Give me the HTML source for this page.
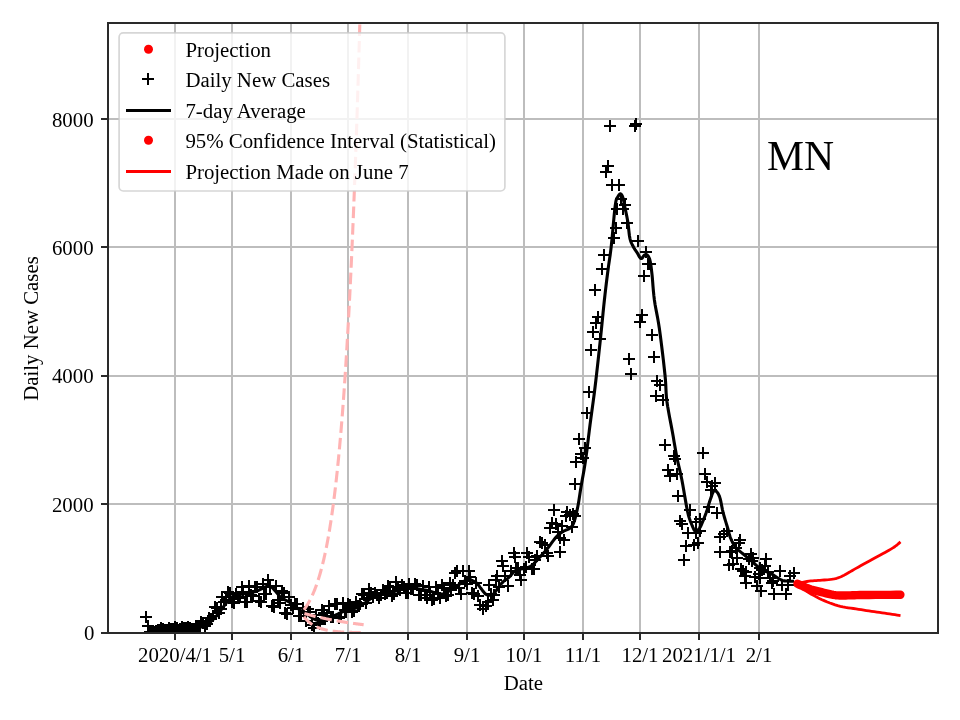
<!DOCTYPE html><html><head><meta charset="utf-8"><title>MN Daily New Cases</title><style>html,body{margin:0;padding:0;background:#fff;overflow:hidden}svg{display:block;will-change:transform}text{font-family:'Liberation Serif','Times New Roman',serif;fill:#000}</style></head><body>
<svg width="960" height="720" viewBox="0 0 960 720">
<rect width="960" height="720" fill="#fff"/>
<defs><clipPath id="ax"><rect x="108" y="23" width="830" height="610"/></clipPath></defs>
<path d="M175 23V633M232 23V633M291 23V633M348 23V633M408 23V633M467 23V633M524 23V633M583 23V633M640 23V633M699 23V633M759 23V633M108 633H938M108 504H938M108 376H938M108 247H938M108 119H938" stroke="#bdbdbd" stroke-width="2" fill="none"/>
<g clip-path="url(#ax)">
<path d="M140 617h12M146 611v12M142 626h12M148 620v12M144 632h12M150 626v12M146 632h12M152 626v12M148 632h12M154 626v12M150 631h12M156 625v12M152 630h12M158 624v12M153 630h12M159 624v12M155 628h12M161 622v12M157 629h12M163 623v12M159 630h12M165 624v12M161 630h12M167 624v12M163 628h12M169 622v12M165 629h12M171 623v12M167 629h12M173 623v12M169 627h12M175 621v12M171 628h12M177 622v12M173 630h12M179 624v12M174 629h12M180 623v12M176 627h12M182 621v12M178 628h12M184 622v12M180 628h12M186 622v12M182 627h12M188 621v12M184 628h12M190 622v12M186 629h12M192 623v12M188 629h12M194 623v12M190 626h12M196 620v12M192 626h12M198 620v12M194 626h12M200 620v12M195 622h12M201 616v12M197 623h12M203 617v12M199 626h12M205 620v12M201 624h12M207 618v12M203 618h12M209 612v12M205 619h12M211 613v12M207 616h12M213 610v12M209 607h12M215 601v12M211 608h12M217 602v12M213 613h12M219 607v12M215 609h12M221 603v12M216 597h12M222 591v12M218 602h12M224 596v12M220 600h12M226 594v12M222 592h12M228 586v12M224 593h12M230 587v12M226 602h12M232 596v12M228 603h12M234 597v12M230 594h12M236 588v12M232 598h12M238 592v12M234 597h12M240 591v12M236 587h12M242 581v12M237 592h12M243 586v12M239 602h12M245 596v12M241 602h12M247 596v12M243 586h12M249 580v12M245 595h12M251 589v12M247 596h12M253 590v12M249 587h12M255 581v12M251 587h12M257 581v12M253 601h12M259 595v12M255 602h12M261 596v12M257 584h12M263 578v12M258 594h12M264 588v12M260 594h12M266 588v12M262 580h12M268 574v12M264 587h12M270 581v12M266 606h12M272 600v12M268 607h12M274 601v12M270 586h12M276 580v12M272 600h12M278 594v12M274 603h12M280 597v12M276 591h12M282 585v12M278 593h12M284 587v12M279 613h12M285 607v12M281 614h12M287 608v12M283 597h12M289 591v12M285 605h12M291 599v12M287 608h12M293 602v12M289 604h12M295 598v12M291 604h12M297 598v12M293 616h12M299 610v12M295 616h12M301 610v12M297 608h12M303 602v12M298 612h12M304 606v12M300 621h12M306 615v12M302 609h12M308 603v12M304 612h12M310 606v12M310 615h12M316 609v12M316 610h12M322 604v12M318 613h12M324 607v12M319 619h12M325 613v12M321 616h12M327 610v12M323 606h12M329 600v12M325 617h12M331 611v12M327 617h12M333 611v12M329 604h12M335 598v12M331 604h12M337 598v12M333 618h12M339 612v12M335 617h12M341 611v12M337 603h12M343 597v12M339 610h12M345 604v12M340 612h12M346 606v12M342 604h12M348 598v12M344 605h12M350 599v12M346 612h12M352 606v12M348 611h12M354 605v12M350 602h12M356 596v12M352 606h12M358 600v12M354 604h12M360 598v12M356 594h12M362 588v12M358 595h12M364 589v12M360 603h12M366 597v12M361 599h12M367 593v12M363 589h12M369 583v12M365 593h12M371 587v12M367 597h12M373 591v12M369 593h12M375 587v12M371 595h12M377 589v12M373 598h12M379 592v12M375 595h12M381 589v12M377 590h12M383 584v12M379 594h12M385 588v12M381 593h12M387 587v12M382 586h12M388 580v12M384 587h12M390 581v12M386 596h12M392 590v12M388 594h12M394 588v12M390 582h12M396 576v12M392 589h12M398 583v12M394 590h12M400 584v12M396 585h12M402 579v12M398 587h12M404 581v12M400 593h12M406 587v12M402 593h12M408 587v12M403 584h12M409 578v12M405 589h12M411 583v12M407 589h12M413 583v12M409 584h12M415 578v12M411 585h12M417 579v12M413 595h12M419 589v12M415 595h12M421 589v12M417 586h12M423 580v12M419 595h12M425 589v12M421 598h12M427 592v12M423 587h12M429 581v12M424 592h12M430 586v12M426 600h12M432 594v12M428 599h12M434 593v12M430 587h12M436 581v12M432 594h12M438 588v12M434 598h12M440 592v12M436 585h12M442 579v12M438 588h12M444 582v12M440 596h12M446 590v12M442 595h12M448 589v12M444 583h12M450 577v12M445 590h12M451 584v12M447 585h12M453 579v12M449 573h12M455 567v12M451 571h12M457 565v12M453 588h12M459 582v12M455 594h12M461 588v12M457 571h12M463 565v12M459 581h12M465 575v12M461 584h12M467 578v12M463 571h12M469 565v12M464 577h12M470 571v12M466 593h12M472 587v12M468 594h12M474 588v12M470 583h12M476 577v12M480 606h12M486 600v12M482 602h12M488 596v12M485 594h12M491 588v12M491 576h12M497 570v12M493 587h12M499 581v12M499 576h12M505 570v12M510 568h12M516 562v12M512 568h12M518 562v12M518 569h12M524 563v12M520 567h12M526 561v12M529 560h12M535 554v12M539 545h12M545 539v12M552 532h12M558 526v12M556 526h12M562 520v12M566 527h12M572 521v12M726 551h12M732 545v12M730 548h12M736 542v12M735 569h12M741 563v12M737 571h12M743 565v12M743 559h12M749 553v12M745 554h12M751 548v12M749 577h12M755 571v12M751 586h12M757 580v12M756 570h12M762 564v12M762 572h12M768 566v12M766 583h12M772 577v12M589 290h12M595 284v12M590 323h12M596 317v12M592 317h12M598 311v12M594 339h12M600 333v12M596 269h12M602 263v12M598 255h12M604 249v12M600 172h12M606 166v12M602 166h12M608 160v12M604 126h12M610 120v12M606 185h12M612 179v12M608 238h12M614 232v12M610 228h12M616 222v12M611 209h12M617 203v12M613 185h12M619 179v12M615 199h12M621 193v12M617 209h12M623 203v12M619 205h12M625 199v12M621 223h12M627 217v12M587 332h12M593 326v12M585 350h12M591 344v12M583 392h12M589 386v12M581 413h12M587 407v12M573 439h12M579 433v12M579 448h12M585 442v12M575 454h12M581 448v12M577 458h12M583 452v12M570 462h12M576 456v12M569 484h12M575 478v12M623 359h12M629 353v12M625 374h12M631 368v12M629 126h12M635 120v12M630 124h12M636 118v12M632 241h12M638 235v12M634 322h12M640 316v12M636 315h12M642 309v12M638 276h12M644 270v12M640 252h12M646 246v12M642 264h12M648 258v12M644 264h12M650 258v12M646 335h12M652 329v12M648 357h12M654 351v12M651 381h12M657 375v12M654 385h12M660 379v12M650 396h12M656 390v12M657 400h12M663 394v12M659 445h12M665 439v12M668 456h12M674 450v12M669 459h12M675 453v12M662 470h12M668 464v12M664 476h12M670 470v12M671 474h12M677 468v12M672 496h12M678 490v12M684 510h12M690 504v12M697 453h12M703 447v12M699 474h12M705 468v12M701 482h12M707 476v12M709 483h12M715 477v12M706 486h12M712 480v12M705 490h12M711 484v12M703 507h12M709 501v12M711 513h12M717 507v12M674 521h12M680 515v12M676 524h12M682 518v12M690 522h12M696 516v12M694 519h12M700 513v12M682 533h12M688 527v12M690 533h12M696 527v12M694 531h12M700 525v12M692 543h12M698 537v12M688 545h12M694 539v12M680 546h12M686 540v12M678 560h12M684 554v12M714 537h12M720 531v12M718 534h12M724 528v12M721 531h12M727 525v12M714 552h12M720 546v12M723 565h12M729 559v12M734 540h12M740 534v12M733 543h12M739 537v12M724 552h12M730 546v12M731 558h12M737 552v12M727 564h12M733 558v12M747 558h12M753 552v12M746 561h12M752 555v12M740 572h12M746 566v12M739 576h12M745 570v12M740 583h12M746 577v12M754 568h12M760 562v12M760 559h12M766 553v12M759 566h12M765 560v12M753 574h12M759 568v12M754 578h12M760 572v12M755 591h12M761 585v12M764 578h12M770 572v12M767 581h12M773 575v12M768 594h12M774 588v12M774 571h12M780 565v12M776 585h12M782 579v12M780 594h12M786 588v12M788 573h12M794 567v12M784 576h12M790 570v12M782 585h12M788 579v12M496 561h12M502 555v12M502 586h12M508 580v12M508 553h12M514 547v12M509 557h12M515 551v12M514 575h12M520 569v12M515 580h12M521 574v12M521 553h12M527 547v12M523 557h12M529 551v12M528 569h12M534 563v12M534 542h12M540 536v12M536 543h12M542 537v12M541 553h12M547 547v12M544 528h12M550 522v12M546 523h12M552 517v12M548 510h12M554 504v12M550 524h12M556 518v12M554 538h12M560 532v12M554 552h12M560 546v12M558 540h12M564 534v12M561 512h12M567 506v12M564 515h12M570 509v12M567 514h12M573 508v12M474 605h12M480 599v12M477 609h12M483 603v12M472 596h12M478 590v12M487 600h12M493 594v12M488 595h12M494 589v12M483 585h12M489 579v12M490 580h12M496 574v12M308 628h12M314 622v12M306 625h12M312 619v12M312 623h12M318 617v12M314 624h12M320 618v12M531 556h12M537 550v12M542 556h12M548 550v12M497 566h12M503 560v12M526 569h12M532 563v12M505 571h12M511 565v12M560 516h12M566 510v12M569 516h12M575 510v12" stroke="#000" stroke-width="2" fill="none"/>
<path d="M160 629.2 L161.09 629.16 L162.59 629.1 L164.38 629.02 L166.3 628.95 L168.22 628.87 L170 628.8 L171.67 628.73 L173.33 628.67 L175 628.61 L176.67 628.54 L178.33 628.47 L180 628.4 L181.69 628.32 L183.42 628.24 L185.15 628.16 L186.84 628.07 L188.47 627.98 L190 627.9 L191.44 627.82 L192.81 627.74 L194.12 627.67 L195.36 627.59 L196.52 627.5 L197.6 627.4 L198.55 627.32 L199.37 627.27 L200.11 627.21 L200.84 627.1 L201.62 626.91 L202.5 626.6 L203.51 626.16 L204.6 625.61 L205.74 624.98 L206.89 624.29 L208.02 623.55 L209.1 622.8 L210.12 622.03 L211.11 621.23 L212.09 620.38 L213.05 619.49 L214.02 618.53 L215 617.5 L215.99 616.39 L216.98 615.2 L217.97 613.95 L218.97 612.66 L219.98 611.33 L221 610 L222.06 608.59 L223.17 607.09 L224.29 605.56 L225.39 604.07 L226.43 602.7 L227.4 601.5 L228.26 600.49 L229.03 599.61 L229.76 598.84 L230.47 598.17 L231.2 597.56 L232 597 L232.83 596.52 L233.66 596.13 L234.51 595.81 L235.41 595.54 L236.4 595.28 L237.5 595 L238.72 594.73 L240.05 594.49 L241.45 594.27 L242.93 594.04 L244.45 593.79 L246 593.5 L247.66 593.17 L249.45 592.82 L251.3 592.45 L253.1 592.06 L254.78 591.66 L256.25 591.25 L257.47 590.83 L258.51 590.39 L259.42 589.93 L260.27 589.48 L261.11 589.03 L262 588.6 L262.94 588.15 L263.89 587.66 L264.83 587.18 L265.75 586.76 L266.64 586.43 L267.5 586.25 L268.25 586.15 L268.9 586.08 L269.52 586.1 L270.19 586.3 L270.99 586.74 L272 587.5 L273.27 588.72 L274.75 590.37 L276.36 592.27 L278.03 594.21 L279.68 596.02 L281.25 597.5 L282.72 598.59 L284.16 599.44 L285.58 600.16 L287.01 600.83 L288.48 601.58 L290 602.5 L291.62 603.64 L293.33 604.93 L295.08 606.28 L296.81 607.63 L298.46 608.89 L300 610 L301.42 610.93 L302.76 611.74 L304.03 612.47 L305.24 613.15 L306.39 613.81 L307.5 614.5 L308.54 615.22 L309.5 615.95 L310.41 616.67 L311.28 617.35 L312.14 617.97 L313 618.5 L313.84 618.95 L314.64 619.33 L315.43 619.65 L316.23 619.91 L317.07 620.13 L318 620.3 L319.01 620.44 L320.09 620.56 L321.21 620.62 L322.36 620.61 L323.53 620.51 L324.7 620.3 L325.87 619.95 L327.06 619.47 L328.27 618.9 L329.49 618.27 L330.74 617.63 L332 617 L333.29 616.36 L334.61 615.68 L335.96 614.98 L337.31 614.29 L338.66 613.62 L340 613 L341.33 612.43 L342.64 611.9 L343.96 611.39 L345.28 610.9 L346.63 610.44 L348 610 L349.41 609.62 L350.86 609.31 L352.33 609.02 L353.8 608.7 L355.27 608.31 L356.7 607.8 L358.12 607.15 L359.53 606.39 L360.92 605.55 L362.31 604.67 L363.67 603.78 L365 602.9 L366.27 602.01 L367.47 601.08 L368.64 600.13 L369.84 599.2 L371.11 598.31 L372.5 597.5 L373.99 596.77 L375.56 596.08 L377.19 595.44 L378.89 594.85 L380.66 594.28 L382.5 593.75 L384.44 593.28 L386.48 592.87 L388.59 592.5 L390.74 592.13 L392.89 591.72 L395 591.25 L397.13 590.64 L399.31 589.92 L401.5 589.16 L403.63 588.44 L405.65 587.86 L407.5 587.5 L409.14 587.39 L410.61 587.46 L411.97 587.67 L413.28 587.95 L414.6 588.25 L416 588.5 L417.46 588.71 L418.93 588.93 L420.41 589.16 L421.91 589.41 L423.44 589.69 L425 590 L426.62 590.37 L428.31 590.81 L430.02 591.27 L431.72 591.72 L433.39 592.14 L435 592.5 L436.49 592.88 L437.87 593.33 L439.22 593.75 L440.6 594.03 L442.09 594.06 L443.75 593.75 L445.63 593 L447.69 591.87 L449.84 590.51 L452.04 589.03 L454.2 587.56 L456.25 586.25 L458.28 584.98 L460.34 583.62 L462.38 582.29 L464.3 581.07 L466.03 580.07 L467.5 579.4 L468.64 579.11 L469.49 579.12 L470.16 579.36 L470.73 579.73 L471.31 580.14 L472 580.5 L472.78 580.81 L473.58 581.15 L474.39 581.53 L475.19 581.97 L475.98 582.49 L476.75 583.1 L477.49 583.84 L478.21 584.71 L478.92 585.65 L479.62 586.63 L480.31 587.59 L481 588.5 L481.69 589.39 L482.39 590.32 L483.08 591.23 L483.75 592.09 L484.39 592.86 L485 593.5 L485.56 594 L486.07 594.38 L486.56 594.67 L487.04 594.9 L487.51 595.06 L488 595.2 L488.5 595.29 L489 595.32 L489.5 595.3 L490 595.23 L490.5 595.13 L491 595 L491.49 594.87 L491.96 594.74 L492.44 594.58 L492.93 594.34 L493.44 594 L494 593.5 L494.6 592.82 L495.22 591.99 L495.88 591.04 L496.56 590.03 L497.26 589 L498 588 L498.77 587 L499.56 585.95 L500.39 584.88 L501.24 583.83 L502.11 582.83 L503 581.9 L503.89 581.1 L504.8 580.42 L505.72 579.79 L506.68 579.13 L507.68 578.39 L508.75 577.5 L509.9 576.36 L511.11 575.01 L512.38 573.57 L513.67 572.17 L514.97 570.94 L516.25 570 L517.53 569.41 L518.84 569.09 L520.15 568.94 L521.46 568.85 L522.74 568.74 L524 568.5 L525.21 568.2 L526.39 567.94 L527.54 567.66 L528.7 567.28 L529.88 566.75 L531.1 566 L532.37 564.99 L533.68 563.76 L535.01 562.38 L536.35 560.91 L537.69 559.43 L539 558 L540.27 556.66 L541.51 555.36 L542.74 554.04 L543.99 552.66 L545.3 551.17 L546.7 549.5 L548.24 547.54 L549.9 545.3 L551.62 542.95 L553.32 540.64 L554.94 538.54 L556.4 536.8 L557.67 535.47 L558.81 534.41 L559.87 533.57 L560.89 532.85 L561.91 532.19 L563 531.5 L564.18 530.85 L565.42 530.31 L566.67 529.83 L567.88 529.34 L569.01 528.78 L570 528.1 L570.83 527.39 L571.53 526.71 L572.14 525.96 L572.71 525.05 L573.29 523.86 L573.9 522.3 L574.56 520.31 L575.23 517.98 L575.89 515.37 L576.55 512.57 L577.19 509.65 L577.8 506.7 L578.36 503.74 L578.87 500.71 L579.36 497.56 L579.86 494.26 L580.39 490.75 L581 487 L581.69 483.02 L582.44 478.84 L583.23 474.46 L584.03 469.86 L584.83 465.05 L585.6 460 L586.34 454.66 L587.06 449.02 L587.78 443.16 L588.5 437.15 L589.23 431.07 L590 425 L590.8 418.98 L591.62 412.94 L592.46 406.84 L593.31 400.61 L594.16 394.18 L595 387.5 L595.84 380.47 L596.69 373.13 L597.54 365.59 L598.38 357.98 L599.2 350.41 L600 343 L600.78 335.6 L601.54 328.07 L602.29 320.59 L603.01 313.31 L603.72 306.4 L604.4 300 L605.05 294.18 L605.67 288.81 L606.27 283.8 L606.86 279.06 L607.43 274.49 L608 270 L608.55 265.88 L609.08 262.27 L609.6 258.83 L610.12 255.23 L610.67 251.15 L611.25 246.25 L611.89 240.01 L612.59 232.58 L613.31 224.66 L614.02 216.96 L614.69 210.17 L615.3 205 L615.83 201.65 L616.3 199.59 L616.74 198.45 L617.16 197.84 L617.57 197.38 L618 196.7 L618.44 195.84 L618.88 195.1 L619.32 194.52 L619.75 194.12 L620.18 193.9 L620.6 193.9 L621.02 194.12 L621.43 194.54 L621.84 195.16 L622.24 195.96 L622.63 196.91 L623 198 L623.35 199.26 L623.67 200.69 L623.98 202.29 L624.29 204.02 L624.63 205.86 L625 207.8 L625.43 209.85 L625.9 212.03 L626.39 214.33 L626.89 216.71 L627.36 219.18 L627.8 221.7 L628.18 224.41 L628.5 227.34 L628.81 230.34 L629.13 233.27 L629.48 235.98 L629.9 238.3 L630.39 240.21 L630.93 241.81 L631.51 243.19 L632.11 244.42 L632.71 245.56 L633.3 246.7 L633.87 247.78 L634.43 248.72 L635 249.58 L635.58 250.41 L636.17 251.27 L636.8 252.2 L637.47 253.31 L638.18 254.6 L638.91 255.9 L639.63 257.08 L640.34 258 L641 258.5 L641.62 258.47 L642.21 258 L642.79 257.26 L643.34 256.43 L643.88 255.68 L644.4 255.2 L644.9 254.92 L645.38 254.69 L645.84 254.55 L646.29 254.53 L646.74 254.67 L647.2 255 L647.68 255.49 L648.16 256.1 L648.65 256.87 L649.13 257.83 L649.58 259.03 L650 260.5 L650.37 262.2 L650.71 264.08 L651.03 266.19 L651.33 268.59 L651.65 271.31 L652 274.4 L652.35 277.95 L652.67 281.95 L653.01 286.27 L653.39 290.8 L653.84 295.42 L654.4 300 L655.08 304.41 L655.85 308.7 L656.7 313.08 L657.59 317.75 L658.5 322.91 L659.4 328.75 L660.34 335.68 L661.36 343.61 L662.39 352.03 L663.39 360.42 L664.27 368.25 L665 375 L665.49 380.47 L665.77 385.05 L665.95 389.06 L666.13 392.87 L666.41 396.82 L666.9 401.25 L667.63 406.24 L668.54 411.53 L669.54 416.95 L670.59 422.36 L671.59 427.6 L672.5 432.5 L673.3 437.06 L674.03 441.39 L674.74 445.55 L675.43 449.58 L676.15 453.55 L676.9 457.5 L677.69 461.29 L678.5 464.86 L679.33 468.36 L680.17 471.94 L681.02 475.77 L681.9 480 L682.82 484.92 L683.78 490.45 L684.76 496.23 L685.73 501.88 L686.65 507.01 L687.5 511.25 L688.26 514.5 L688.95 517.05 L689.59 519.08 L690.22 520.79 L690.85 522.37 L691.5 524 L692.19 525.72 L692.9 527.37 L693.62 528.9 L694.32 530.21 L694.98 531.24 L695.6 531.9 L696.15 532.12 L696.66 531.94 L697.13 531.47 L697.59 530.84 L698.04 530.14 L698.5 529.5 L698.94 528.96 L699.34 528.45 L699.74 527.88 L700.17 527.17 L700.66 526.24 L701.25 525 L701.96 523.39 L702.78 521.46 L703.66 519.31 L704.56 517.04 L705.43 514.73 L706.25 512.5 L707.01 510.25 L707.74 507.89 L708.44 505.49 L709.14 503.16 L709.82 500.97 L710.5 499 L711.16 497.14 L711.79 495.3 L712.4 493.6 L713.03 492.17 L713.69 491.13 L714.4 490.6 L715.18 490.61 L716.03 491.05 L716.91 491.88 L717.79 493.06 L718.63 494.53 L719.4 496.25 L720.08 498.36 L720.7 500.93 L721.29 503.79 L721.86 506.78 L722.46 509.74 L723.1 512.5 L723.81 515.12 L724.56 517.76 L725.34 520.35 L726.1 522.87 L726.83 525.27 L727.5 527.5 L728.07 529.54 L728.55 531.4 L729 533.15 L729.46 534.82 L729.98 536.45 L730.6 538.1 L731.31 539.76 L732.06 541.4 L732.87 543.01 L733.75 544.57 L734.72 546.07 L735.8 547.5 L737.04 548.86 L738.44 550.17 L739.94 551.41 L741.44 552.6 L742.89 553.73 L744.2 554.8 L745.34 555.76 L746.35 556.61 L747.3 557.4 L748.26 558.19 L749.27 559.04 L750.4 560 L751.69 561.14 L753.1 562.41 L754.57 563.74 L756.04 565.06 L757.45 566.27 L758.75 567.3 L759.91 568.14 L760.99 568.84 L762.01 569.43 L762.99 569.97 L763.98 570.48 L765 571 L766 571.47 L766.94 571.86 L767.89 572.22 L768.89 572.61 L769.99 573.1 L771.25 573.75 L772.75 574.65 L774.46 575.77 L776.28 576.98 L778.09 578.18 L779.79 579.22 L781.25 580 L782.46 580.48 L783.49 580.75 L784.41 580.88 L785.26 580.92 L786.11 580.94 L787 581 L787.99 581.09 L789.06 581.15 L790.11 581.19 L791.08 581.21 L791.9 581.23 L792.5 581.25" stroke="#000" stroke-width="3.1" fill="none" stroke-linejoin="round" stroke-linecap="square"/>
<path d="M304 609.8 L304.49 609.12 L304.99 608.43 L305.48 607.71 L305.97 606.98 L306.47 606.22 L306.96 605.44 L307.45 604.63 L307.95 603.81 L308.44 602.95 L308.93 602.08 L309.42 601.18 L309.92 600.25 L310.41 599.29 L310.9 598.31 L311.4 597.29 L311.89 596.25 L312.38 595.18 L312.88 594.07 L313.37 592.93 L313.86 591.76 L314.36 590.56 L314.85 589.32 L315.34 588.04 L315.84 586.72 L316.33 585.37 L316.82 583.98 L317.32 582.54 L317.81 581.07 L318.3 579.55 L318.8 577.98 L319.29 576.37 L319.78 574.72 L320.27 573.01 L320.77 571.25 L321.26 569.45 L321.75 567.59 L322.25 565.67 L322.74 563.7 L323.23 561.67 L323.73 559.58 L324.22 557.43 L324.71 555.21 L325.21 552.94 L325.7 550.59 L326.19 548.18 L326.69 545.69 L327.18 543.13 L327.67 540.5 L328.17 537.79 L328.66 535 L329.15 532.12 L329.65 529.17 L330.14 526.12 L330.63 522.99 L331.12 519.76 L331.62 516.44 L332.11 513.02 L332.6 509.51 L333.1 505.88 L333.59 502.16 L334.08 498.32 L334.58 494.37 L335.07 490.3 L335.56 486.12 L336.06 481.81 L336.55 477.37 L337.04 472.81 L337.54 468.11 L338.03 463.27 L338.52 458.29 L339.02 453.17 L339.51 447.89 L340 442.46 L340.5 436.87 L340.99 431.11 L341.48 425.19 L341.97 419.09 L342.47 412.81 L342.96 406.35 L343.45 399.7 L343.95 392.86 L344.44 385.81 L344.93 378.55 L345.43 371.08 L345.92 363.4 L346.41 355.48 L346.91 347.34 L347.4 338.95 L347.89 330.32 L348.39 321.44 L348.88 312.29 L349.37 302.88 L349.87 293.19 L350.36 283.21 L350.85 272.94 L351.34 262.37 L351.84 251.49 L352.33 240.29 L352.82 228.77 L353.32 216.9 L353.81 204.68 L354.3 192.11 L354.8 179.16 L355.29 165.84 L355.78 152.12 L356.28 138 L356.77 123.47 L357.26 108.51 L357.76 93.11 L358.25 77.26 L358.74 60.94 L359.24 44.14 L359.73 26.85 L360.22 9.05 L360.72 -9.27 L361.21 -28.13 L361.7 -47.54 L362.19 -67.52 L362.69 -88.09" stroke="#ffb3b3" stroke-width="3.1" fill="none" stroke-dasharray="11.56 5"/>
<path d="M304.4 613.5 L304.9 613.64 L305.4 613.78 L305.89 613.92 L306.39 614.06 L306.89 614.19 L307.39 614.33 L307.88 614.46 L308.38 614.6 L308.88 614.73 L309.38 614.86 L309.88 614.99 L310.37 615.12 L310.87 615.25 L311.37 615.38 L311.87 615.5 L312.37 615.63 L312.86 615.75 L313.36 615.88 L313.86 616 L314.36 616.12 L314.85 616.25 L315.35 616.37 L315.85 616.49 L316.35 616.6 L316.85 616.72 L317.34 616.84 L317.84 616.96 L318.34 617.07 L318.84 617.18 L319.33 617.3 L319.83 617.41 L320.33 617.52 L320.83 617.63 L321.33 617.74 L321.82 617.85 L322.32 617.96 L322.82 618.07 L323.32 618.18 L323.82 618.29 L324.31 618.39 L324.81 618.5 L325.31 618.6 L325.81 618.7 L326.3 618.81 L326.8 618.91 L327.3 619.01 L327.8 619.11 L328.3 619.21 L328.79 619.31 L329.29 619.41 L329.79 619.5 L330.29 619.6 L330.79 619.7 L331.28 619.79 L331.78 619.89 L332.28 619.98 L332.78 620.07 L333.27 620.17 L333.77 620.26 L334.27 620.35 L334.77 620.44 L335.27 620.53 L335.76 620.62 L336.26 620.71 L336.76 620.8 L337.26 620.88 L337.75 620.97 L338.25 621.06 L338.75 621.14 L339.25 621.23 L339.75 621.31 L340.24 621.39 L340.74 621.48 L341.24 621.56 L341.74 621.64 L342.24 621.72 L342.73 621.8 L343.23 621.88 L343.73 621.96 L344.23 622.04 L344.72 622.12 L345.22 622.2 L345.72 622.28 L346.22 622.35 L346.72 622.43 L347.21 622.5 L347.71 622.58 L348.21 622.65 L348.71 622.73 L349.2 622.8 L349.7 622.87 L350.2 622.94 L350.7 623.02 L351.2 623.09 L351.69 623.16 L352.19 623.23 L352.69 623.3 L353.19 623.37 L353.69 623.44 L354.18 623.5 L354.68 623.57 L355.18 623.64 L355.68 623.71 L356.17 623.77 L356.67 623.84 L357.17 623.9 L357.67 623.97 L358.17 624.03 L358.66 624.1 L359.16 624.16 L359.66 624.22 L360.16 624.28 L360.66 624.35 L361.15 624.41 L361.65 624.47 L362.15 624.53 L362.65 624.59 L363.14 624.65 L363.64 624.71" stroke="#ffb3b3" stroke-width="3.1" fill="none" stroke-dasharray="11.56 5"/>
<path d="M303.9 616.7 L304.38 617.29 L304.86 617.87 L305.33 618.42 L305.81 618.95 L306.29 619.46 L306.77 619.95 L307.25 620.42 L307.72 620.88 L308.2 621.32 L308.68 621.74 L309.16 622.15 L309.64 622.54 L310.11 622.92 L310.59 623.29 L311.07 623.64 L311.55 623.98 L312.03 624.3 L312.5 624.61 L312.98 624.92 L313.46 625.21 L313.94 625.49 L314.42 625.76 L314.89 626.02 L315.37 626.27 L315.85 626.51 L316.33 626.74 L316.81 626.96 L317.28 627.18 L317.76 627.39 L318.24 627.59 L318.72 627.78 L319.2 627.96 L319.67 628.14 L320.15 628.31 L320.63 628.48 L321.11 628.64 L321.59 628.79 L322.06 628.94 L322.54 629.08 L323.02 629.22 L323.5 629.35 L323.98 629.48 L324.45 629.6 L324.93 629.72 L325.41 629.83 L325.89 629.94 L326.37 630.05 L326.84 630.15 L327.32 630.25 L327.8 630.34 L328.28 630.43 L328.76 630.52 L329.23 630.6 L329.71 630.68 L330.19 630.76 L330.67 630.84 L331.15 630.91 L331.62 630.98 L332.1 631.05 L332.58 631.11 L333.06 631.17 L333.53 631.23 L334.01 631.29 L334.49 631.35 L334.97 631.4 L335.45 631.45 L335.92 631.5 L336.4 631.55 L336.88 631.6 L337.36 631.64 L337.84 631.68 L338.31 631.72 L338.79 631.76 L339.27 631.8 L339.75 631.84 L340.23 631.87 L340.7 631.91 L341.18 631.94 L341.66 631.97 L342.14 632 L342.62 632.03 L343.09 632.06 L343.57 632.09 L344.05 632.11 L344.53 632.14 L345.01 632.16 L345.48 632.19 L345.96 632.21 L346.44 632.23 L346.92 632.25 L347.4 632.27 L347.87 632.29 L348.35 632.31 L348.83 632.33 L349.31 632.35 L349.79 632.36 L350.26 632.38 L350.74 632.39 L351.22 632.41 L351.7 632.42 L352.18 632.44 L352.65 632.45 L353.13 632.46 L353.61 632.48 L354.09 632.49 L354.57 632.5 L355.04 632.51 L355.52 632.52 L356 632.53 L356.48 632.54 L356.96 632.55 L357.43 632.56 L357.91 632.57 L358.39 632.58 L358.87 632.59 L359.35 632.59 L359.82 632.6 L360.3 632.61 L360.78 632.62" stroke="#ffb3b3" stroke-width="3.1" fill="none" stroke-dasharray="11.56 5"/>
<path d="M797.5 583.3 L798.76 583.06 L800.5 582.71 L802.56 582.31 L804.78 581.89 L806.98 581.5 L809 581.2 L810.84 580.98 L812.65 580.82 L814.44 580.69 L816.24 580.57 L818.09 580.45 L820 580.3 L822.05 580.14 L824.23 579.99 L826.45 579.83 L828.63 579.66 L830.67 579.45 L832.5 579.2 L834.07 578.92 L835.45 578.61 L836.7 578.28 L837.88 577.91 L839.06 577.48 L840.3 577 L841.59 576.44 L842.86 575.82 L844.14 575.15 L845.41 574.44 L846.7 573.72 L848 573 L849.23 572.31 L850.36 571.66 L851.51 570.99 L852.76 570.25 L854.22 569.41 L856 568.4 L858.16 567.2 L860.64 565.83 L863.32 564.35 L866.12 562.81 L868.91 561.28 L871.6 559.8 L874.29 558.33 L877.09 556.81 L879.89 555.28 L882.58 553.82 L885.05 552.45 L887.2 551.25 L888.98 550.24 L890.46 549.38 L891.73 548.63 L892.86 547.93 L893.92 547.24 L895 546.5 L896.11 545.67 L897.21 544.79 L898.24 543.9 L899.16 543.09 L899.93 542.4 L900.5 541.9" stroke="#f00" stroke-width="2.8" fill="none" stroke-linejoin="round"/>
<path d="M797.5 584.2 L798.7 585.14 L800.33 586.45 L802.27 587.99 L804.43 589.65 L806.71 591.3 L809 592.8 L811.37 594.21 L813.93 595.64 L816.59 597.05 L819.32 598.42 L822.04 599.71 L824.7 600.9 L827.3 601.99 L829.9 603 L832.5 603.94 L835.1 604.81 L837.7 605.59 L840.3 606.3 L842.91 606.9 L845.53 607.38 L848.15 607.79 L850.77 608.15 L853.39 608.51 L856 608.9 L858.61 609.31 L861.21 609.72 L863.81 610.12 L866.4 610.51 L869 610.91 L871.6 611.3 L874.23 611.69 L876.89 612.09 L879.54 612.47 L882.17 612.86 L884.73 613.24 L887.2 613.6 L889.7 613.97 L892.3 614.36 L894.83 614.74 L897.14 615.09 L899.08 615.39 L900.5 615.6" stroke="#f00" stroke-width="2.8" fill="none" stroke-linejoin="round"/>
<path d="M797.5 583.75 L798.74 584.32 L800.44 585.12 L802.46 586.06 L804.66 587.05 L806.89 588 L809 588.8 L811.02 589.47 L813.07 590.07 L815.14 590.63 L817.26 591.16 L819.41 591.68 L821.6 592.2 L823.87 592.76 L826.22 593.33 L828.61 593.9 L831 594.42 L833.34 594.87 L835.6 595.2 L837.72 595.4 L839.73 595.5 L841.69 595.51 L843.68 595.48 L845.76 595.43 L848 595.4 L850.19 595.37 L852.23 595.3 L854.36 595.22 L856.83 595.14 L859.88 595.06 L863.75 595 L869.07 594.95 L875.78 594.91 L883.06 594.88 L890.12 594.84 L896.17 594.82 L900.4 594.8" stroke="#f00" stroke-width="8.4" fill="none" stroke-linejoin="round" stroke-linecap="round"/>
</g>
<rect x="108" y="23" width="830" height="610" fill="none" stroke="#2a2a2a" stroke-width="2"/>
<path d="M175 633v7M232 633v7M291 633v7M348 633v7M408 633v7M467 633v7M524 633v7M583 633v7M640 633v7M699 633v7M759 633v7M108 633h-7M108 504h-7M108 376h-7M108 247h-7M108 119h-7" stroke="#2a2a2a" stroke-width="2" fill="none"/>
<text x="175" y="662.3" font-size="20.83" text-anchor="middle">2020/4/1</text>
<text x="232" y="662.3" font-size="20.83" text-anchor="middle">5/1</text>
<text x="291" y="662.3" font-size="20.83" text-anchor="middle">6/1</text>
<text x="348" y="662.3" font-size="20.83" text-anchor="middle">7/1</text>
<text x="408" y="662.3" font-size="20.83" text-anchor="middle">8/1</text>
<text x="467" y="662.3" font-size="20.83" text-anchor="middle">9/1</text>
<text x="524" y="662.3" font-size="20.83" text-anchor="middle">10/1</text>
<text x="583" y="662.3" font-size="20.83" text-anchor="middle">11/1</text>
<text x="640" y="662.3" font-size="20.83" text-anchor="middle">12/1</text>
<text x="699" y="662.3" font-size="20.83" text-anchor="middle">2021/1/1</text>
<text x="759" y="662.3" font-size="20.83" text-anchor="middle">2/1</text>
<text x="94.3" y="640" font-size="20.83" text-anchor="end">0</text>
<text x="93.6" y="511.55" font-size="20.83" text-anchor="end">2000</text>
<text x="93.6" y="383.1" font-size="20.83" text-anchor="end">4000</text>
<text x="93.6" y="254.65" font-size="20.83" text-anchor="end">6000</text>
<text x="93.6" y="127.2" font-size="20.83" text-anchor="end">8000</text>
<text x="523.3" y="689.9" font-size="20.83" text-anchor="middle">Date</text>
<text transform="translate(37.7 328.5) rotate(-90)" font-size="20.83" text-anchor="middle">Daily New Cases</text>
<text x="767" y="170.4" font-size="41.67">MN</text>
<rect x="119.1" y="32.9" width="385.8" height="158.1" rx="4.2" fill="#fff" fill-opacity="0.8" stroke="#ccc" stroke-opacity="0.8" stroke-width="1.67"/>
<circle cx="148.5" cy="49.3" r="4.5" fill="#f00"/>
<path d="M142 79h12M148 73v12" stroke="#000" stroke-width="2"/>
<path d="M126 110.5H171" stroke="#000" stroke-width="3"/>
<circle cx="148.5" cy="140.3" r="4.5" fill="#f00"/>
<path d="M126 171.5H171" stroke="#f00" stroke-width="3"/>
<text x="185.4" y="56.8" font-size="20.83">Projection</text>
<text x="185.4" y="87.3" font-size="20.83">Daily New Cases</text>
<text x="185.4" y="117.8" font-size="20.83">7-day Average</text>
<text x="185.4" y="148.3" font-size="20.83">95% Confidence Interval (Statistical)</text>
<text x="185.4" y="178.8" font-size="20.83">Projection Made on June 7</text>
</svg></body></html>
